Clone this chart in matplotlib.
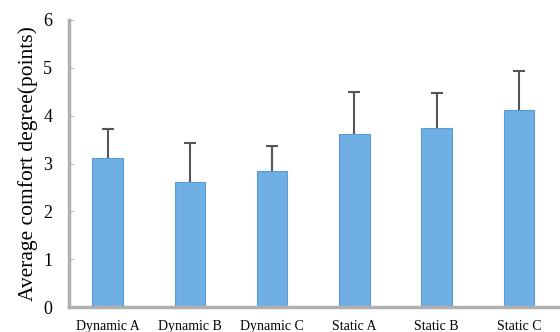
import matplotlib
matplotlib.use("Agg")
import matplotlib.pyplot as plt
import numpy as np

categories = ["Dynamic A", "Dynamic B", "Dynamic C", "Static A", "Static B", "Static C"]
means = [3.12, 2.62, 2.85, 3.62, 3.75, 4.12]
errors = [0.61, 0.80, 0.52, 0.88, 0.73, 0.81]
yticks = [0, 1, 2, 3, 4, 5, 6]

plt.rcParams['font.family'] = ['Liberation Serif', 'DejaVu Serif']

fig = plt.figure(figsize=(5.6, 3.32), dpi=100)
ax = fig.add_axes([0.123, 0.075, 0.877, 0.865])

x = np.arange(len(categories))
ax.bar(x, means, width=0.37, color="#70afe4", edgecolor="#5a9ad6", linewidth=0.8, zorder=2)
# only the upper half of each error bar is shown
_, caps, _ = ax.errorbar(x, means, yerr=[np.zeros(len(errors)), errors], fmt="none",
                         ecolor="#555555", elinewidth=1.5, capsize=4, capthick=1.5, zorder=3)
caps[0].set_visible(False)

ax.set_xlim(-0.47, 5.5)
ax.set_ylim(0, 6)
ax.set_yticks(yticks)
ax.set_xticks(x)
ax.set_xticklabels(categories, fontsize=10)
ax.tick_params(axis="y", direction="in", length=3, color="#b0b0b0", labelsize=13, pad=12)
ax.tick_params(axis="x", length=0, pad=9)

for side in ["top", "right"]:
    ax.spines[side].set_visible(False)
for side in ["left", "bottom"]:
    ax.spines[side].set_color("#b0b0b0")
    ax.spines[side].set_linewidth(2.5)

ax.set_ylabel("Average comfort degree(points)", fontsize=15.5, labelpad=4)

fig.savefig("out.png", dpi=100)
